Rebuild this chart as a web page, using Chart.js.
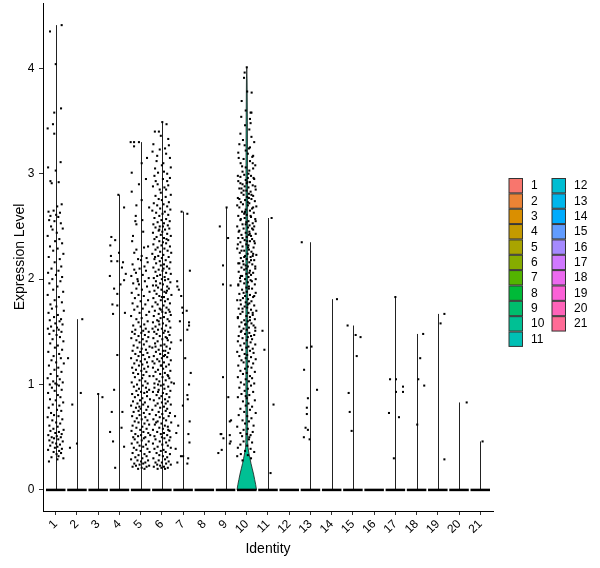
<!DOCTYPE html>
<html>
<head>
<meta charset="utf-8">
<script src="https://cdn.jsdelivr.net/npm/chart.js@4/dist/chart.umd.min.js"></script>
<style>
html,body{margin:0;padding:0;background:#fff;}
#wrap{width:600px;height:568px;}
</style>
</head>
<body>
<div id="wrap"><canvas id="c" width="600" height="568"></canvas></div>
<script>
// ---- DATA ----
const clusters = ['1','2','3','4','5','6','7','8','9','10','11','12','13','14','15','16','17','18','19','20','21'];
const yTicks = [0,1,2,3,4];
const xTitle = 'Identity';
const yTitle = 'Expression Level';
// non-zero cells per cluster, flat pairs: [jitter offset, expression value, ...]
const pts1 = [-.27,4.35,.28,4.41,0,4.04,.25,3.62,-.07,3.58,-.13,3.47,-.38,3.43,-.07,3.38,.23,3.11,-.36,3.06,0,3.03,-.25,2.93,-.19,2.91,.14,2.92,
.28,2.71,.07,2.69,-.34,2.64,-.1,2.65,.2,2.63,.02,2.61,-.25,2.6,.12,2.59,-.31,2.56,-.06,2.55,.24,2.53,-.22,2.5,.33,2.48,-.15,2.47,.05,2.44,-.38,2.41,.17,2.38,-.03,2.36,.3,2.34,-.27,2.31,.09,2.29,-.12,2.27,.36,2.24,-.33,2.21,.19,2.19,-.05,2.16,.26,2.12,-.2,2.1,.13,2.08,-.36,2.06,.01,2.04,.3,2.02,-.16,2.0,
.22,1.98,-.3,1.96,.08,1.93,-.12,1.9,.35,1.88,-.38,1.85,.15,1.83,-.05,1.8,.29,1.78,-.25,1.76,.03,1.74,-.18,1.72,.38,1.7,-.34,1.68,.1,1.66,-.08,1.64,.25,1.62,-.28,1.61,.18,1.6,-.02,1.58,.32,1.57,-.22,1.55,.06,1.54,-.37,1.53,.14,1.52,-.1,1.51,.27,1.5,
-.3,1.48,.04,1.47,.2,1.45,-.15,1.43,.36,1.41,-.26,1.39,.1,1.37,-.04,1.35,.3,1.33,-.35,1.31,.16,1.29,-.1,1.27,.24,1.25,-.2,1.23,.02,1.21,.38,1.2,-.32,1.18,.12,1.16,-.06,1.14,.27,1.12,-.24,1.1,.08,1.08,-.38,1.06,.19,1.05,-.12,1.03,.33,1.02,-.02,1.01,.05,1.0,-.28,1.0,.15,.99,
-.18,.97,.28,.95,-.05,.94,-.36,.92,.1,.9,.22,.88,-.27,.86,0,.85,.35,.83,-.14,.81,.17,.8,-.33,.78,.06,.76,.26,.75,-.22,.73,-.08,.71,.13,.7,-.38,.69,.31,.67,-.16,.66,.02,.64,.21,.63,-.3,.61,.09,.6,-.11,.58,.37,.57,-.25,.56,.15,.55,-.02,.54,.28,.53,-.35,.52,.05,.51,-.19,.5,.24,.5,-.08,.49,
.12,.48,-.3,.47,.33,.46,-.15,.45,.02,.44,.2,.43,-.26,.42,.08,.41,-.04,.4,.29,.39,-.36,.38,.16,.37,-.1,.36,.25,.35,.04,.34,.13,.32,-.2,.31,.36,.3,.08,.29,-.32,.27];
const pts2 = [.25,1.62,-.42,1.25,.18,.92,-.22,.81,0,.44,-.33,.40];
const pts3 = [0,.91,.2,.88];
const pts4 = [-.05,2.8,.22,2.68,-.38,2.4,-.43,2.32,-.2,2.37,-.38,2.17,-.1,2.17,.17,2.16,.12,2.11,-.02,2.25,-.45,2.03,.22,1.99,-.25,1.91,-.1,1.86,-.33,1.76,-.1,1.75,-.3,1.67,.26,1.68,-.1,1.28,-.25,.95,-.36,.74,.14,.74,-.44,.55,.1,.59,-.3,.46,.22,.41,-.2,.21,.3,2.05,.05,1.95,-.4,2.22];
const pts5 = [-.47,3.3,-.31,3.3,-.08,3.3,-.31,3.26,.05,3.1,-.42,3.01,-.08,2.9,-.42,2.83,.05,2.75,.3,3.15,.25,2.95,-.2,2.7,-.23,2.6,.08,2.56,-.25,2.55,-.2,2.52,-.36,2.41,.16,2.3,.35,2.31,-.2,2.28,.4,2.68,.12,2.45,-.4,2.36,.28,2.2,
-.3,2.25,.05,2.22,-.12,2.19,.33,2.16,-.38,2.14,.18,2.12,-.05,2.1,.25,2.08,-.22,2.06,.1,2.04,-.44,2.03,.38,2.01,-.15,2.0,.02,2.18,-.3,2.09,
.2,1.98,-.35,1.96,-.08,1.95,.3,1.93,-.2,1.91,.06,1.9,.42,1.88,-.42,1.87,-.1,1.85,.15,1.84,-.27,1.82,.35,1.8,0,1.79,-.38,1.77,.22,1.76,-.15,1.74,.1,1.72,-.3,1.71,.4,1.69,-.05,1.68,.27,1.66,-.45,1.65,.05,1.63,-.2,1.62,.33,1.6,-.1,1.59,.17,1.57,-.35,1.56,0,1.55,.24,1.53,-.25,1.52,.12,1.51,-.4,1.5,.38,1.5,-.13,1.98,
.03,1.49,-.28,1.48,.2,1.47,-.1,1.46,.36,1.45,-.44,1.44,.1,1.43,-.2,1.42,.28,1.41,-.05,1.4,.15,1.38,-.33,1.37,.42,1.36,-.15,1.35,.05,1.34,.25,1.33,-.38,1.32,-.02,1.31,.32,1.3,-.25,1.29,.12,1.28,-.1,1.27,.4,1.26,-.45,1.25,.2,1.24,-.18,1.23,0,1.22,.3,1.21,-.3,1.2,.08,1.19,-.08,1.18,.35,1.17,-.4,1.16,.17,1.15,-.22,1.14,.03,1.13,.27,1.12,-.35,1.11,-.12,1.1,.13,1.09,.42,1.08,-.27,1.07,.07,1.06,-.05,1.04,.22,1.03,-.42,1.02,.33,1.01,-.17,1.0,
.1,.99,-.32,.98,.25,.97,-.08,.96,.4,.95,-.2,.94,.02,.93,.17,.92,-.4,.91,-.12,.9,.3,.89,-.27,.88,.08,.87,.44,.86,-.03,.85,-.36,.84,.2,.83,-.15,.82,.12,.81,-.45,.8,.35,.79,-.22,.78,0,.77,.27,.76,-.1,.75,-.33,.74,.15,.73,.42,.72,-.05,.71,-.4,.7,.22,.69,-.18,.68,.05,.67,.32,.66,-.28,.65,-.1,.64,.18,.63,.4,.62,-.38,.61,.08,.6,-.2,.59,.28,.58,-.02,.57,-.43,.56,.13,.55,.36,.54,-.25,.53,.02,.52,-.12,.51,.22,.5,-.35,.5,.45,.52,-.06,.79,.3,.93,
.15,.49,-.28,.48,.05,.47,.38,.46,-.15,.45,-.42,.44,.25,.43,-.05,.42,.12,.41,-.32,.4,.32,.39,-.2,.38,0,.37,.42,.36,-.38,.35,.18,.34,-.1,.33,.28,.32,-.25,.31,.08,.3,-.45,.29,.35,.28,-.15,.28,.02,.27,.22,.26,-.3,.25,.12,.25,-.05,.24,.4,.23,-.22,.23,.28,.22,-.38,.22,.05,.21,-.12,.2,.18,.2];
const pts6 = [.02,3.49,.22,3.47,-.33,3.4,-.14,3.4,-.1,3.23,.15,3.24,-.22,3.17,.07,3.1,-.32,3.05,.3,3.33,-.4,3.28,.38,3.15,-.05,3.36,.1,3.02,-.25,3.12,.2,3.19,.42,3.06,-.44,3.21,0,3.08,.33,3.27,-.18,3.01,.25,3.0,
.25,2.93,-.29,2.93,-.1,2.85,.2,2.85,-.35,2.98,.38,2.96,.05,2.95,-.2,2.9,.3,2.89,-.42,2.88,.12,2.87,-.05,2.82,.42,2.8,-.3,2.79,.18,2.78,-.15,2.76,0,2.75,.33,2.73,-.38,2.72,.08,2.71,-.22,2.7,.25,2.69,-.08,2.67,.4,2.66,-.45,2.65,.14,2.64,-.27,2.63,.03,2.62,.3,2.61,-.12,2.6,-.35,2.58,.2,2.57,-.02,2.56,.37,2.55,-.2,2.54,.1,2.53,-.4,2.52,.28,2.51,-.1,2.5,.05,2.5,
-.3,2.49,.35,2.48,.15,2.47,-.15,2.46,.02,2.45,-.42,2.44,.25,2.43,-.05,2.42,.42,2.41,-.25,2.4,.1,2.39,-.35,2.38,.3,2.37,-.12,2.36,.05,2.35,.2,2.34,-.4,2.33,-.02,2.32,.38,2.31,-.2,2.3,.12,2.29,-.3,2.28,.27,2.27,-.08,2.26,.44,2.25,-.45,2.24,.07,2.23,-.17,2.22,.32,2.21,0,2.2,-.35,2.19,.18,2.18,-.1,2.17,.4,2.16,-.27,2.15,.1,2.14,-.05,2.13,.24,2.12,-.4,2.11,.35,2.1,-.15,2.09,.03,2.08,-.3,2.07,.2,2.06,.42,2.05,-.08,2.04,-.22,2.03,.13,2.02,-.38,2.01,.3,2.0,0,2.0,-.12,2.47,.22,2.38,-.32,2.21,.08,2.1,
.15,1.99,-.28,1.98,.4,1.97,-.08,1.96,.05,1.95,-.42,1.94,.25,1.93,-.18,1.92,.33,1.91,-.02,1.9,-.35,1.89,.12,1.88,.2,1.87,-.25,1.86,.45,1.85,-.12,1.84,0,1.83,-.4,1.82,.28,1.81,-.05,1.8,.15,1.79,-.3,1.78,.38,1.77,-.2,1.76,.08,1.75,-.45,1.74,.22,1.73,-.1,1.72,.32,1.71,-.33,1.7,.02,1.69,.18,1.68,-.15,1.67,.42,1.66,-.38,1.65,.1,1.64,-.06,1.63,.27,1.62,-.22,1.61,.35,1.6,-.42,1.59,.05,1.58,-.12,1.57,.2,1.56,-.3,1.55,.4,1.54,0,1.53,-.18,1.52,.14,1.51,-.36,1.5,.3,1.5,-.05,1.71,.24,1.89,-.27,1.94,.1,1.83,-.15,1.6,.37,1.69,-.44,1.53,
.08,1.49,-.25,1.48,.36,1.47,-.1,1.46,.18,1.45,-.4,1.44,.02,1.43,.28,1.42,-.2,1.41,.44,1.4,-.32,1.39,.12,1.38,-.05,1.37,.22,1.36,-.45,1.35,.38,1.34,-.15,1.33,.05,1.32,-.28,1.31,.3,1.3,-.08,1.29,.15,1.28,-.38,1.27,.25,1.26,0,1.25,-.22,1.24,.42,1.23,-.12,1.22,.1,1.21,-.35,1.2,.33,1.19,-.02,1.18,.2,1.17,-.42,1.16,.06,1.15,-.18,1.14,.4,1.13,-.3,1.12,.14,1.11,-.08,1.1,.27,1.09,-.4,1.08,.03,1.07,.35,1.06,-.25,1.05,.18,1.04,-.12,1.03,.45,1.02,-.35,1.01,.08,1.0,-.18,1.0,.24,1.44,-.3,1.36,.1,1.27,-.05,1.18,.3,1.08,-.44,1.22,.16,1.32,
-.05,.99,.3,.98,-.35,.97,.12,.96,-.15,.95,.4,.94,-.42,.93,.05,.92,.22,.91,-.25,.9,-.02,.89,.35,.88,-.12,.87,.15,.86,-.38,.85,.28,.84,0,.83,-.2,.82,.42,.81,-.3,.8,.1,.79,-.08,.78,.25,.77,-.45,.76,.18,.75,-.15,.74,.38,.73,.02,.72,-.28,.71,.32,.7,-.1,.69,.08,.68,-.4,.67,.2,.66,-.2,.65,.44,.64,-.02,.63,-.33,.62,.14,.61,.28,.6,-.12,.59,.05,.58,-.42,.57,.36,.56,-.22,.55,.1,.54,-.05,.53,.25,.52,-.35,.51,.4,.5,0,.5,-.18,.93,.18,.82,-.27,.64,.3,.57,
.12,.49,-.3,.48,.35,.47,-.1,.46,.2,.45,-.42,.44,.02,.43,.28,.42,-.2,.41,.42,.4,-.35,.39,.08,.38,-.05,.37,.18,.36,-.25,.35,.38,.34,-.12,.33,.05,.32,.25,.31,-.4,.3,.15,.29,-.15,.28,.32,.27,-.3,.26,0,.26,.2,.25,-.22,.24,.42,.24,-.08,.23,.1,.22,-.38,.22,.28,.21,-.02,.21,.15,.2,-.2,.2];
const pts7 = [-.07,2.64,.2,2.62,.32,2.08,-.27,1.93,-.2,1.9,-.09,1.84,-.04,1.73,.17,1.7,-.01,1.68,.28,1.59,.28,1.56,-.15,1.6,.2,1.52,-.11,1.42,.36,1.11,.28,1.0,-.43,1.01,-.01,.8,.2,.9,.22,.86,.31,.65,-.23,.61,-.32,.54,.25,.53,-.35,.39,-.1,.32,0,.32,.24,.3,.2,.25,-.27,.26,-.28,1.98,.1,1.25,-.38,.7,.3,.45];
const pts8 = [];
const pts9 = [.05,2.68,-.27,2.5,.12,2.39,-.12,2.13,-.12,1.95,.24,1.94,-.12,1.07,.13,.88,.26,.66,.2,.65,-.23,.53,-.2,.53,.2,.52,-.1,.49,-.18,.38,-.34,.35,.24,.46,.2,.44];
const pts10 = [0,4.01,-.1,3.96,-.13,3.91,.02,3.78,.23,3.77,-.24,3.69,-.05,3.6,-.26,3.54,.18,3.58,.22,3.58,.15,3.52,.18,3.48,-.08,3.46,.15,3.25,.1,3.24,-.05,3.22,.26,3.16,.3,3.17,.15,3.12,-.29,3.1,-.05,3.06,.3,3.05,-.2,3.02,.08,3.0,
-.35,3.28,.35,3.3,-.15,3.14,.05,3.19,-.4,3.2,.4,3.08,-.1,3.27,.22,3.35,-.3,3.38,.12,3.42,-.18,3.32,
-.12,2.99,.2,2.98,-.3,2.97,.05,2.96,.35,2.95,-.05,2.94,-.4,2.93,.15,2.92,0,2.91,-.2,2.9,.28,2.89,-.1,2.88,.08,2.87,-.35,2.86,.42,2.85,-.02,2.84,.18,2.83,-.25,2.82,.1,2.81,-.15,2.8,.3,2.79,.02,2.78,-.42,2.77,.22,2.76,-.08,2.75,.38,2.74,-.28,2.73,.12,2.72,-.18,2.71,.05,2.7,.45,2.69,-.35,2.68,.25,2.67,-.05,2.66,.15,2.65,-.22,2.64,.33,2.63,-.12,2.62,0,2.61,-.4,2.6,.2,2.59,-.1,2.58,.4,2.57,-.3,2.56,.08,2.55,-.02,2.54,.28,2.53,-.2,2.52,.13,2.51,-.45,2.5,.35,2.5,.03,2.92,-.25,2.86,.1,2.77,-.08,2.64,
.06,2.49,-.15,2.48,.3,2.47,-.35,2.46,.12,2.45,-.05,2.44,.42,2.43,-.25,2.42,.2,2.41,0,2.4,-.4,2.39,.25,2.38,-.1,2.37,.15,2.36,-.3,2.35,.38,2.34,-.02,2.33,.08,2.32,-.2,2.31,.32,2.3,-.45,2.29,.1,2.28,-.12,2.27,.22,2.26,-.33,2.25,.04,2.24,.45,2.23,-.08,2.22,.18,2.21,-.28,2.2,0,2.19,.35,2.18,-.18,2.17,.12,2.16,-.4,2.15,.26,2.14,-.05,2.13,.05,2.12,-.25,2.11,.4,2.1,-.12,2.09,.15,2.08,-.38,2.07,.3,2.06,-.02,2.05,.2,2.04,-.22,2.03,.08,2.02,-.32,2.01,.42,2.0,-.08,2.0,.02,2.36,.28,2.22,-.15,2.14,.1,2.42,
.18,1.99,-.3,1.98,.05,1.97,-.12,1.96,.38,1.95,-.4,1.94,.1,1.93,-.02,1.92,.25,1.91,-.22,1.9,0,1.88,.42,1.87,-.35,1.86,.15,1.85,-.08,1.84,.3,1.83,-.18,1.82,.06,1.81,-.45,1.8,.22,1.79,-.05,1.78,.12,1.77,-.28,1.76,.35,1.75,-.1,1.74,.02,1.73,-.38,1.72,.2,1.71,.45,1.7,-.2,1.69,.08,1.68,-.3,1.67,.28,1.66,-.02,1.65,.15,1.64,-.42,1.63,.38,1.62,-.12,1.61,.05,1.6,-.25,1.59,.22,1.58,-.05,1.57,.32,1.56,-.35,1.55,.1,1.54,-.15,1.53,0,1.52,.4,1.51,-.28,1.5,
.12,1.49,-.08,1.48,.35,1.47,-.38,1.46,.05,1.45,-.2,1.44,.25,1.43,0,1.42,-.42,1.41,.18,1.4,-.12,1.39,.4,1.38,-.3,1.37,.08,1.36,-.02,1.35,.28,1.34,-.22,1.33,.15,1.32,-.45,1.31,.32,1.3,-.1,1.29,.02,1.28,-.35,1.27,.2,1.26,-.05,1.25,.42,1.24,-.25,1.23,.1,1.22,-.15,1.21,.3,1.2,-.4,1.18,.05,1.17,.22,1.16,-.08,1.15,-.3,1.13,.38,1.12,0,1.11,-.18,1.1,.15,1.08,-.42,1.07,.25,1.06,-.05,1.05,.1,1.03,-.28,1.02,.35,1.01,-.12,1.0,
.2,.99,-.35,.97,.05,.96,-.1,.94,.3,.93,-.25,.91,.12,.9,-.42,.88,0,.87,.38,.85,-.18,.84,.08,.82,-.05,.8,.25,.79,-.3,.77,.15,.76,-.12,.74,.42,.73,-.38,.71,.02,.7,.22,.68,-.2,.66,.1,.65,-.08,.63,.32,.61,-.45,.6,.05,.58,-.15,.57,.28,.55,-.3,.54,0,.53,.18,.52,-.22,.51,.12,.5,-.05,.89,
.1,.48,-.15,.46,.25,.45,-.3,.43,.02,.42,-.42,.4,.18,.39,-.08,.37,.35,.36,-.28,.34,.05,.33,-.45,.32,.2,.3,-.2,.28,
-.38,3.15,.28,3.1,-.22,3.07,.12,3.03,-.42,2.98,.32,2.96,-.3,2.91,.4,2.88,-.15,2.84,.22,2.8,-.35,2.76,.05,2.73,-.45,2.7,.3,2.68,-.1,2.63,.18,2.6,-.28,2.57,.42,2.55,-.05,2.52,.25,2.48,-.38,2.45,.14,2.43,-.2,2.39,.35,2.36,-.42,2.33,.06,2.3,-.25,2.27,.3,2.24,-.12,2.21,.2,2.18,-.35,2.15,.4,2.12,-.02,2.1,.12,2.06,-.28,2.03,.24,1.98,-.4,1.95,.1,1.91,-.15,1.87,.35,1.84,-.3,1.8,.05,1.76,-.2,1.72,.28,1.68,-.42,1.64,.15,1.61,-.08,1.57,.4,1.54,-.25,1.51,.2,1.46];
const pts11 = [-.26,1.51,-.17,1.33,.17,2.58,.26,.81,.12,.16];
const pts12 = [];
const pts13 = [-.41,2.35,-.17,1.35,.05,1.36,-.3,1.14,.31,.95,-.12,.87,-.17,.78,-.17,.72,-.23,.59,-.12,.57,-.31,.5,-.04,.48];
const pts14 = [.25,1.81];
const pts15 = [-.25,1.56,.13,1.47,.36,1.45,.18,1.27,-.2,.92,-.15,.74,-.06,.56];
const pts16 = [];
const pts17 = [0,1.83,-.25,1.05,.03,1.05,.36,.98,.03,.93,.36,.93,-.3,.73,.17,.69,-.07,.3];
const pts18 = [.31,1.48,.17,1.25,.08,1.05,.36,.99,.03,.62];
const pts19 = [.31,1.67,.13,1.58,.31,.29];
const pts20 = [.36,.83];
const pts21 = [.11,.46];
// violin density half-widths for cluster 10 (value, half-width in category units)
const vln10 = [[0,.46],[.05,.42],[.1,.37],[.15,.32],[.2,.26],[.25,.2],[.3,.15],[.35,.1],[.4,.06],[.45,.045],[.6,.04],[1,.04],[2,.04],[3,.035],[3.5,.03],[3.9,.015],[4.01,0]];

// ---- BUILD ----
const allPts = [pts1,pts2,pts3,pts4,pts5,pts6,pts7,pts8,pts9,pts10,pts11,pts12,pts13,pts14,pts15,pts16,pts17,pts18,pts19,pts20,pts21];
const violinProfiles = {10: vln10};

function hclHex(h, c, l) {
  const hr = h * Math.PI / 180;
  const U = c * Math.cos(hr), V = c * Math.sin(hr);
  const Xn = 95.047, Yn = 100, Zn = 108.883;
  const Y = Yn * Math.pow((l + 16) / 116, 3);
  const d = Xn + 15 * Yn + 3 * Zn;
  const un = 4 * Xn / d, vn = 9 * Yn / d;
  const up = U / (13 * l) + un, vp = V / (13 * l) + vn;
  const X = Y * 9 * up / (4 * vp);
  const Z = Y * (12 - 3 * up - 20 * vp) / (4 * vp);
  const x = X / 100, y = Y / 100, z = Z / 100;
  const lin = [
    3.2404542 * x - 1.5371385 * y - 0.4985314 * z,
    -0.9692660 * x + 1.8760108 * y + 0.0415560 * z,
    0.0556434 * x - 0.2040259 * y + 1.0572252 * z
  ];
  return '#' + lin.map(v => {
    let g = v <= 0.0031308 ? 12.92 * v : 1.055 * Math.pow(v, 1 / 2.4) - 0.055;
    g = Math.max(0, Math.min(1, g));
    return Math.round(g * 255).toString(16).padStart(2, '0');
  }).join('');
}
const n = clusters.length;
const palette = clusters.map((c, i) => hclHex(15 + i * (360 - 360 / n) / (n - 1), 100, 65));

const points = [];
allPts.forEach((arr, i) => {
  for (let j = 0; j < arr.length; j += 2) points.push({x: i + 1 + arr[j], y: arr[j + 1]});
});

const FONT = '"Liberation Sans", Arial, sans-serif';
Chart.defaults.font.family = FONT;

const violinPlugin = {
  id: 'violins',
  beforeDatasetsDraw(chart) {
    const {ctx, scales: {x, y}} = chart;
    ctx.save();
    allPts.forEach((arr, i) => {
      const cx = i + 1;
      let maxV = 0;
      for (let j = 1; j < arr.length; j += 2) maxV = Math.max(maxV, arr[j]);
      const prof = violinProfiles[cx];
      if (prof) {
        ctx.beginPath();
        prof.forEach((p, k) => {
          const px = x.getPixelForValue(cx - p[1]), py = y.getPixelForValue(p[0]);
          if (k === 0) ctx.moveTo(px, py); else ctx.lineTo(px, py);
        });
        for (let k = prof.length - 1; k >= 0; k--) {
          ctx.lineTo(x.getPixelForValue(cx + prof[k][1]), y.getPixelForValue(prof[k][0]));
        }
        ctx.closePath();
        ctx.fillStyle = palette[i];
        ctx.fill();
        ctx.strokeStyle = '#1a1a1a';
        ctx.lineWidth = 0.8;
        ctx.stroke();
      } else if (maxV > 0) {
        const px = Math.round(x.getPixelForValue(cx)) + 0.5;
        ctx.beginPath();
        ctx.moveTo(px, y.getPixelForValue(0));
        ctx.lineTo(px, y.getPixelForValue(maxV));
        ctx.strokeStyle = '#222';
        ctx.lineWidth = 1;
        ctx.stroke();
      }
      ctx.beginPath();
      ctx.moveTo(x.getPixelForValue(cx - 0.46), y.getPixelForValue(0));
      ctx.lineTo(x.getPixelForValue(cx + 0.46), y.getPixelForValue(0));
      ctx.strokeStyle = '#000';
      ctx.lineWidth = 2.5;
      ctx.stroke();
    });
    ctx.restore();
  }
};

const legendPlugin = {
  id: 'ggLegend',
  afterDraw(chart) {
    const ctx = chart.ctx;
    ctx.save();
    ctx.font = '12px ' + FONT;
    ctx.textBaseline = 'middle';
    ctx.textAlign = 'left';
    clusters.forEach((c, i) => {
      const col = i < 11 ? 0 : 1;
      const row = i < 11 ? i : i - 11;
      const bx = col ? 552 : 509;
      const by = 178.5 + row * 15.35;
      ctx.fillStyle = palette[i];
      ctx.fillRect(bx, by, 13.5, 14.4);
      ctx.strokeStyle = '#333';
      ctx.lineWidth = 1;
      ctx.strokeRect(bx, by, 13.5, 14.4);
      ctx.fillStyle = '#000';
      ctx.fillText(c, bx + 22, by + 7.5);
    });
    ctx.restore();
  }
};

const noPad = s => { s.paddingTop = 0; s.paddingBottom = 0; s.paddingLeft = 0; s.paddingRight = 0; };

new Chart(document.getElementById('c'), {
  type: 'scatter',
  data: {
    datasets: [{
      data: points,
      pointStyle: 'rect',
      pointRadius: 1.45,
      pointHoverRadius: 1.45,
      pointBorderWidth: 0,
      backgroundColor: '#000',
      borderColor: '#000'
    }]
  },
  options: {
    responsive: false,
    animation: false,
    events: [],
    layout: {padding: {top: 3, right: 107, left: 0, bottom: 0}},
    plugins: {legend: {display: false}, tooltip: {enabled: false}},
    scales: {
      x: {
        type: 'linear',
        min: 0.4, max: 21.6,
        afterBuildTicks: s => { s.ticks = clusters.map((c, i) => ({value: i + 1})); },
        afterFit: s => { s.height = 57; noPad(s); },
        ticks: {
          callback: v => clusters[Math.round(v) - 1],
          autoSkip: false, minRotation: 45, maxRotation: 45,
          color: '#000', font: {size: 12}, padding: 2
        },
        grid: {drawOnChartArea: false, drawTicks: true, tickLength: 4, color: '#333'},
        border: {display: true, color: '#000', width: 1},
        title: {display: true, text: xTitle, color: '#000', font: {size: 14}, padding: {top: 0, bottom: 10.6}}
      },
      y: {
        min: -0.2, max: 4.62,
        afterBuildTicks: s => { s.ticks = yTicks.map(v => ({value: v})); },
        afterFit: s => { s.width = 43; noPad(s); },
        ticks: {color: '#000', font: {size: 12}, padding: 4.5},
        grid: {drawOnChartArea: false, drawTicks: true, tickLength: 4, color: '#333'},
        border: {display: true, color: '#000', width: 1},
        title: {display: true, text: yTitle, color: '#000', font: {size: 14}, padding: {top: 12, bottom: 0}}
      }
    }
  },
  plugins: [violinPlugin, legendPlugin]
});
</script>
</body>
</html>
